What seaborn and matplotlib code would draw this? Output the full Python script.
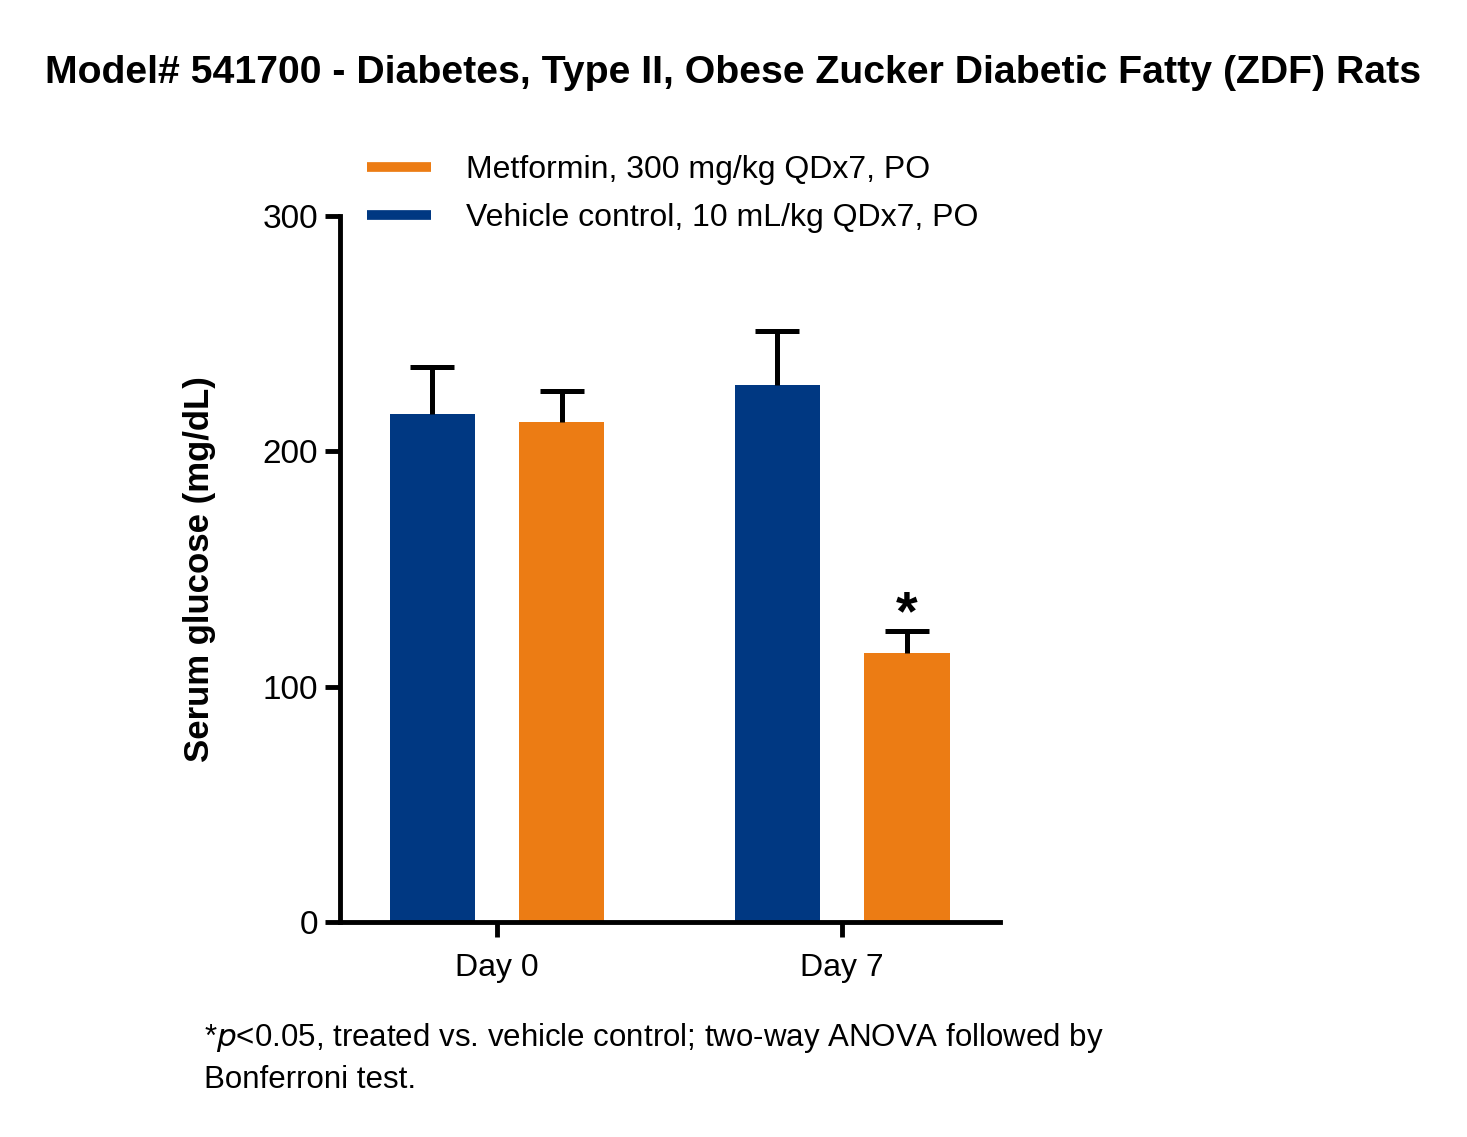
import numpy as np
import pandas as pd
import matplotlib
matplotlib.use("Agg")
import matplotlib.pyplot as plt
import seaborn as sns
from matplotlib.lines import Line2D

# datos
days = ["Day 0", "Day 7"]
groups = ["Vehicle control, 10 mL/kg QDx7, PO", "Metformin, 300 mg/kg QDx7, PO"]
vehicle_mean = [216, 228]
vehicle_sem = [20, 23]
metformin_mean = [212.5, 114.5]
metformin_sem = [13, 9]
colors = {groups[0]: "#003882", groups[1]: "#EC7C14"}

df = pd.DataFrame({
    "day": days * 2,
    "group": [groups[0]] * 2 + [groups[1]] * 2,
    "glucose": vehicle_mean + metformin_mean,
    "sem": vehicle_sem + metformin_sem,
})

sns.set_style("ticks")
plt.rcParams["font.family"] = ["Liberation Sans", "DejaVu Sans"]
plt.rcParams["text.color"] = "black"
plt.rcParams["axes.labelcolor"] = "black"
plt.rcParams["xtick.color"] = "black"
plt.rcParams["ytick.color"] = "black"

fig = plt.figure(figsize=(14.67, 11.37), dpi=100)
ax = fig.add_axes([0.2318, 0.1891, 0.45, 0.621])

sns.barplot(data=df, x="day", y="glucose", hue="group", order=days,
            hue_order=groups, palette=colors, errorbar=None, saturation=1,
            width=0.75, gap=0.34, linewidth=0, ax=ax, legend=False)

# barras de error (solo hacia arriba)
for cont, g in zip(ax.containers, groups):
    sub = df[df["group"] == g].set_index("day").loc[days]
    xs = [p.get_x() + p.get_width() / 2 for p in cont.patches]
    eb = ax.errorbar(xs, sub["glucose"], yerr=[np.zeros(len(xs)), sub["sem"]],
                     fmt="none", ecolor="black", elinewidth=3.6, capsize=15.5,
                     capthick=3.6, zorder=1)
    eb[1][0].remove()  # quitar tapas inferiores

# asterisco en Day 7 metformina
p = ax.containers[1].patches[1]
top = metformin_mean[1] + metformin_sem[1]
ax.text(p.get_x() + p.get_width() / 2, top - 4.3, "*", ha="center", va="bottom",
        fontsize=40, fontweight="bold")

ax.set_ylim(0, 300)
ax.set_yticks([0, 100, 200, 300])
ax.set_xlim(-0.455, 1.458)
ax.set_xlabel("")
ax.set_ylabel("Serum glucose (mg/dL)", fontsize=25, fontweight="bold", labelpad=33)
ax.tick_params(axis="both", width=3.5, length=11)
ax.tick_params(axis="y", labelsize=24, pad=5)
ax.tick_params(axis="x", labelsize=23, pad=11)
sns.despine(ax=ax)
for s in ["left", "bottom"]:
    ax.spines[s].set_linewidth(3.5)
    ax.spines[s].set_color("black")

handles = [Line2D([0], [0], color=colors[groups[1]], lw=7, solid_capstyle="butt"),
           Line2D([0], [0], color=colors[groups[0]], lw=7, solid_capstyle="butt")]
fig.legend(handles, [groups[1], groups[0]], loc="upper left",
           bbox_to_anchor=(0.2307, 0.889), frameon=False, fontsize=23,
           handlelength=2.0, handletextpad=1.1, labelspacing=0.58)

fig.text(0.5, 0.927, "Model# 541700 - Diabetes, Type II, Obese Zucker Diabetic Fatty (ZDF) Rats",
         ha="center", fontsize=28.3, fontweight="bold")
fig.text(0.139, 0.037, "*$p$<0.05, treated vs. vehicle control; two-way ANOVA followed by\nBonferroni test.",
         ha="left", va="bottom", fontsize=22.5, linespacing=1.45)

plt.savefig("out.png", dpi=100)
